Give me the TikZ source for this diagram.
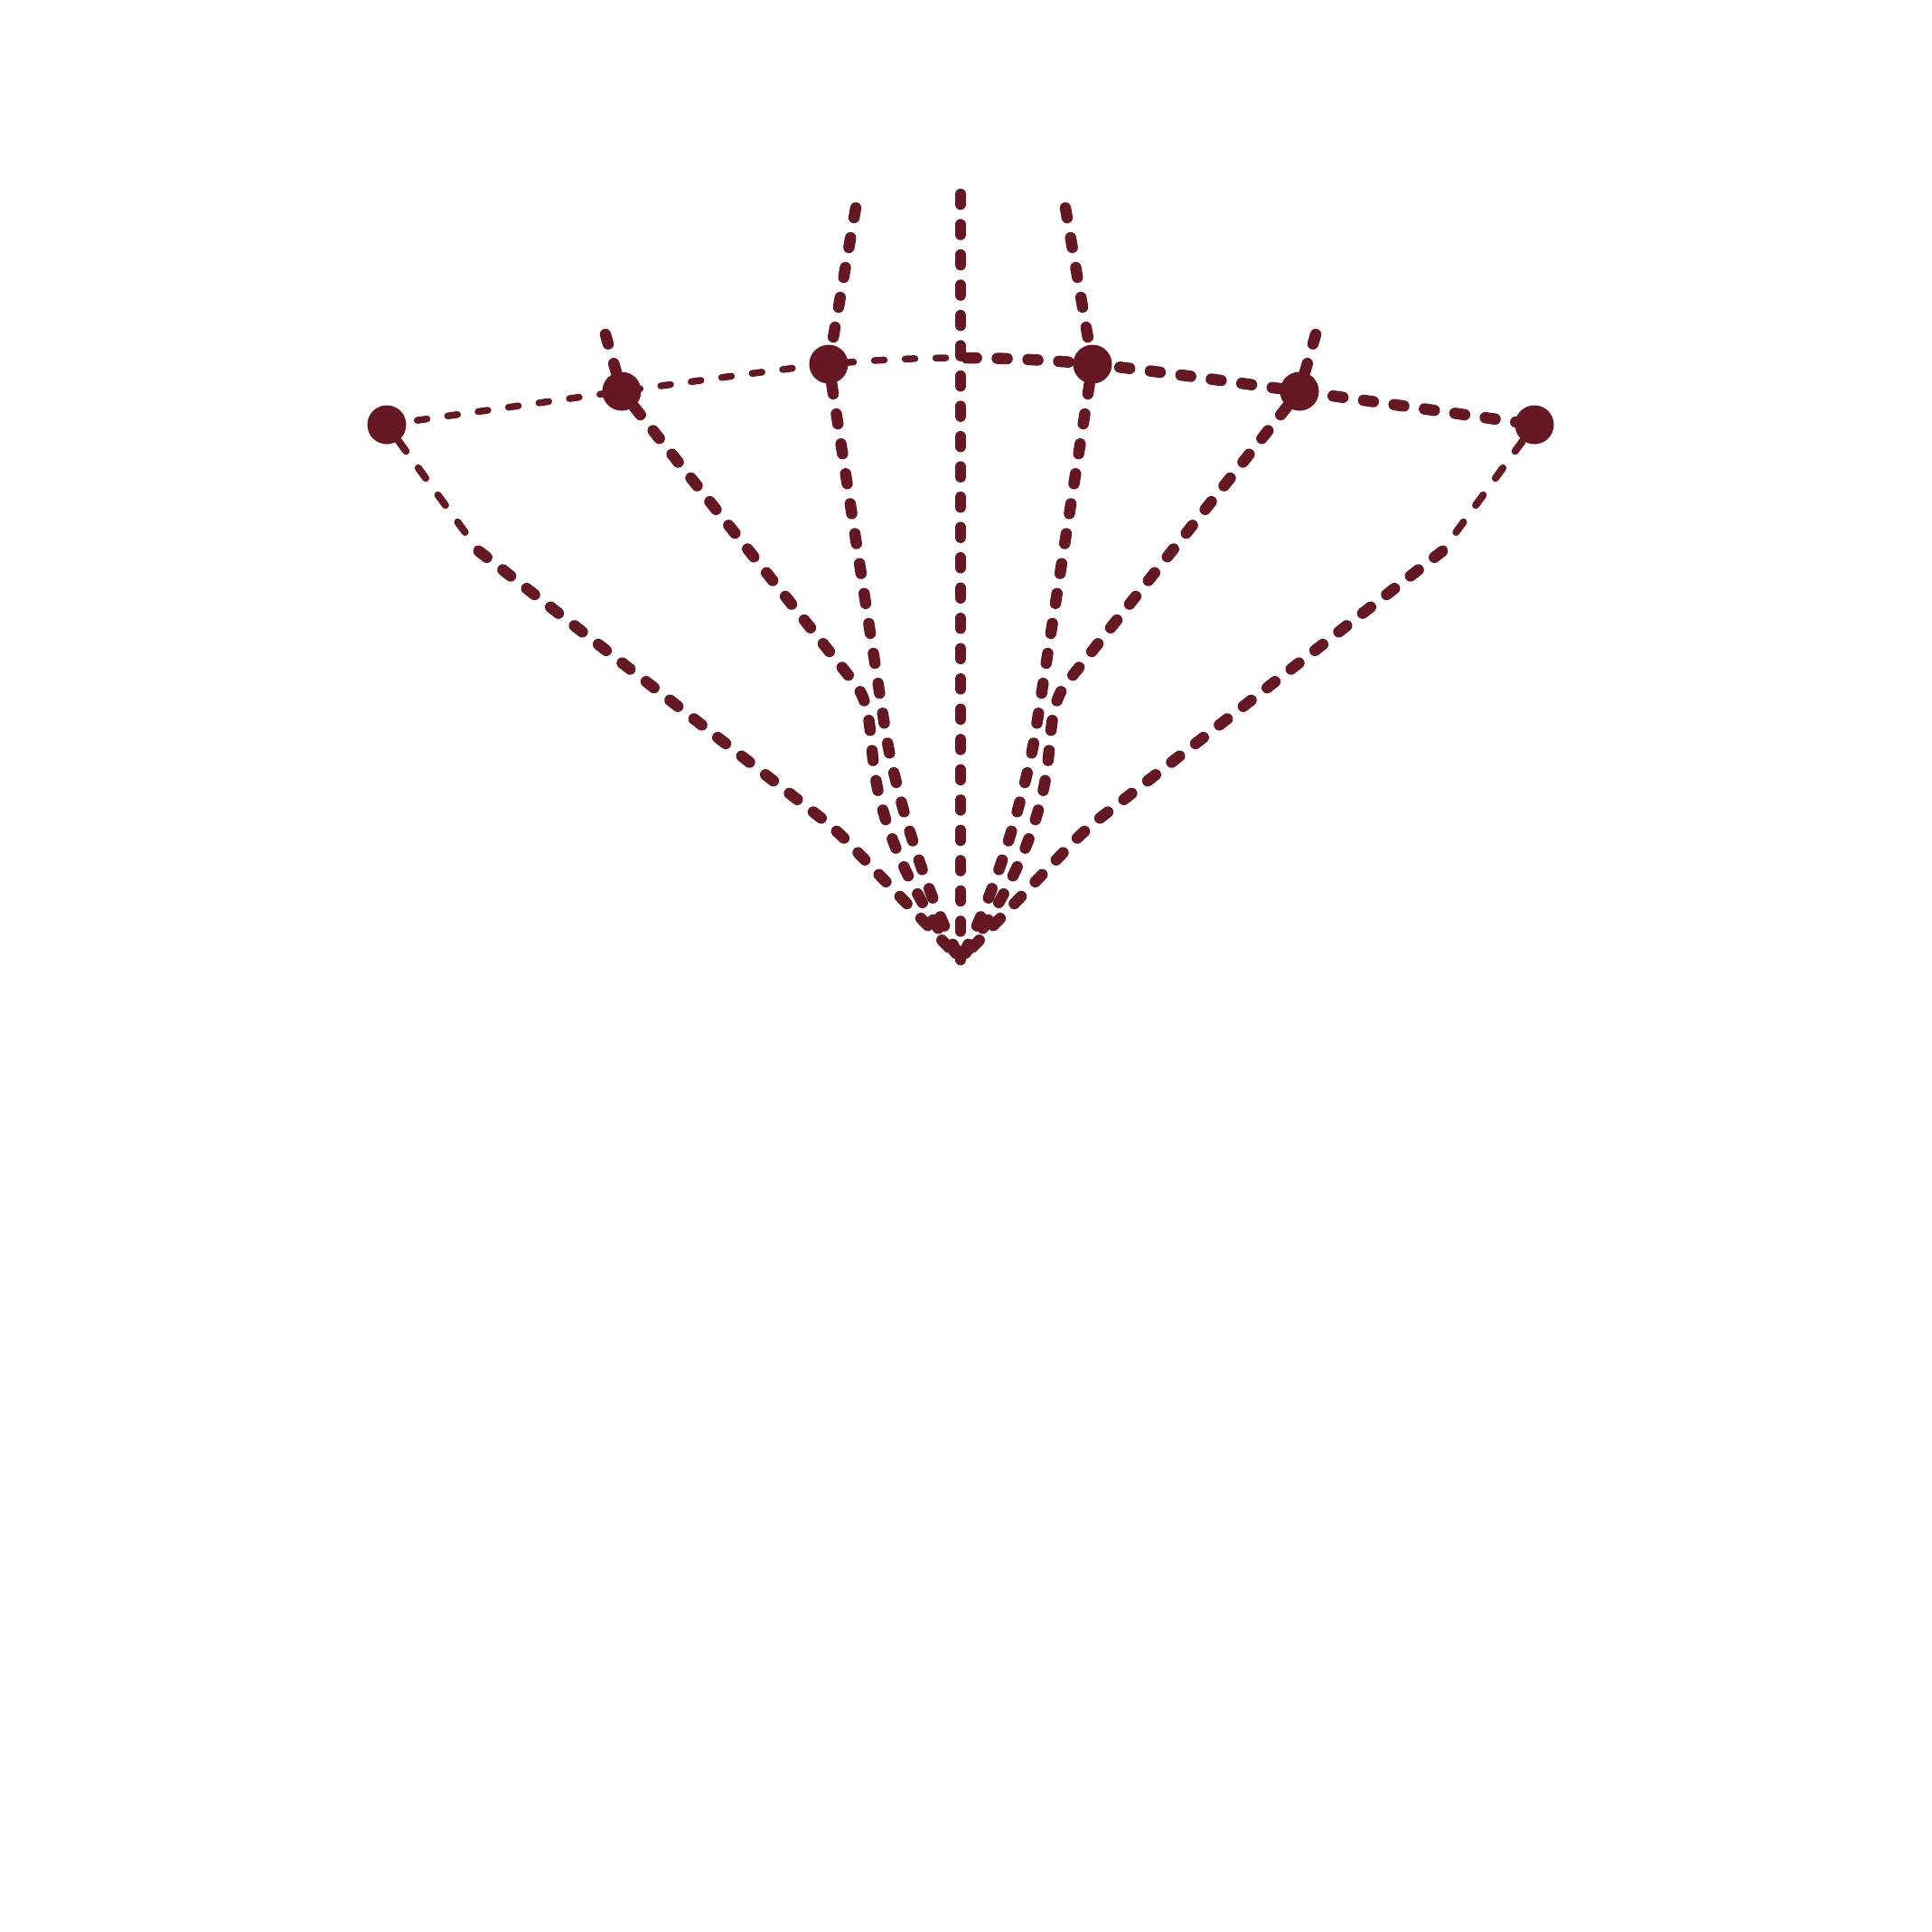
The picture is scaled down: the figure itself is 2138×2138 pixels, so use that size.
\documentclass[tikz,border=0pt]{standalone}
\definecolor{fanRed}{RGB}{102,24,34}

\begin{document}
\begin{tikzpicture}[
    x=0.01cm, y=-0.01cm,
    dot/.style={circle, fill=fanRed, inner sep=0pt, minimum size=4.3mm},
    ray/.style={draw=fanRed, line width=1.25mm, line cap=round,
                dash pattern=on 1.1mm off 2.25mm},
    rim/.style={draw=fanRed, line width=0.8mm, line cap=round,
                dash pattern=on 1.4mm off 2.3mm},
    brim/.style={draw=fanRed, line width=#1, line cap=round,
                 dash pattern=on 1.1mm off 2.3mm},
]
\useasboundingbox (0,0) rectangle (2138,2138);

% free ends and bends
\coordinate (apex) at (1063,1062);
\coordinate (top) at (1063,215);
\coordinate (mid) at (1063,396);
\coordinate (tip2) at (670,370);
\coordinate (tip3) at (947,230);
\coordinate (tip4) at (1179,230);
\coordinate (tip5) at (1456,370);
\coordinate (knee1) at (530,610);
\coordinate (knee6) at (1596,610);
\coordinate (elbow1) at (925,918);
\coordinate (elbow6) at (1201,918);
\coordinate (bend2) at (945,755);
\coordinate (bend5) at (1181,755);
\coordinate (low3) at (980,810);
\coordinate (low4) at (1146,810);

% points on the rim
\node[dot] (p1) at (428,470) {};
\node[dot] (p2) at (688,433) {};
\node[dot] (p3) at (917,403) {};
\node[dot] (p4) at (1209,403) {};
\node[dot] (p5) at (1438,433) {};
\node[dot] (p6) at (1698,470) {};

% rim, thinner on the left
\begin{scope}
  \clip (0,0) rectangle (1063,2138);
  \draw[brim=0.75mm] plot[smooth] coordinates {(p1.center) (p2.center) (p3.center)
      (mid) (p4.center) (p5.center) (p6.center)};
\end{scope}
\begin{scope}
  \clip (1063,0) rectangle (2138,2138);
  \draw[brim=1.25mm] plot[smooth] coordinates {(p1.center) (p2.center) (p3.center)
      (mid) (p4.center) (p5.center) (p6.center)};
\end{scope}

% centre ray
\draw[ray] (top) -- (apex);

% left rays
\draw[rim] (p1) -- (knee1);
\draw[ray, rounded corners=2mm] (knee1) -- (elbow1) -- (apex);
\draw[ray] (tip2) -- (p2) -- (bend2) .. controls (962,776) and (962,800) .. (966,840)
    .. controls (972,900) and (1000,980) .. (apex);
\draw[ray] (tip3) -- (p3) -- (low3) .. controls (990,870) and (1020,980) .. (apex);

% right rays
\draw[rim] (p6) -- (knee6);
\draw[ray, rounded corners=2mm] (knee6) -- (elbow6) -- (apex);
\draw[ray] (tip5) -- (p5) -- (bend5) .. controls (1164,776) and (1164,800) .. (1160,840)
    .. controls (1154,900) and (1126,980) .. (apex);
\draw[ray] (tip4) -- (p4) -- (low4) .. controls (1136,870) and (1106,980) .. (apex);
\end{tikzpicture}
\end{document}
